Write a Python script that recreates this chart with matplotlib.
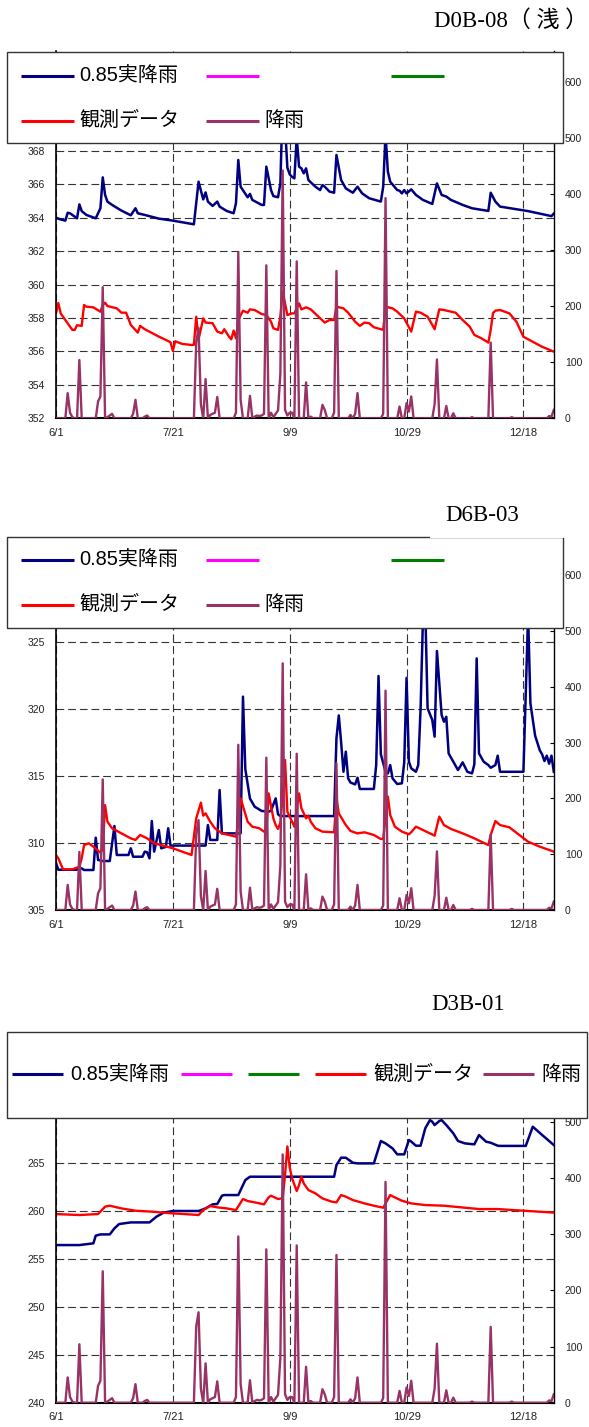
import numpy as np
import matplotlib.pyplot as plt
from matplotlib.lines import Line2D
from matplotlib.patches import Rectangle

plt.rcParams['font.family'] = ['Liberation Sans', 'Noto Sans CJK JP']

# x axis: days counted from 6/1
tick_days = [0, 50, 100, 150, 200]
tick_labels = ['6/1', '7/21', '9/9', '10/29', '12/18']
n_days = 214

# daily rainfall (days with rain only, other days are 0)
rain_day = [5, 6, 7, 10, 18, 19, 20, 22, 23, 24, 33, 34, 38, 39,
            60, 61, 62, 64, 66, 67, 68, 69, 77, 78, 79, 83, 85, 86, 87, 88, 89,
            90, 92, 93, 94, 95, 96, 97, 98, 99, 100, 101, 103, 107, 109, 114, 115,
            119, 120, 126, 128, 129, 140, 141, 147, 150, 151, 152, 162, 163, 167,
            170, 178, 186, 195, 211, 212, 213]
rain_mm = [45, 10, 2, 104, 30, 39, 234, 2, 5, 8, 8, 33, 3, 5,
           136, 161, 25, 70, 6, 8, 10, 38, 10, 296, 33, 40, 3, 5, 4, 5, 8,
           273, 10, 2, 8, 14, 80, 442, 15, 5, 10, 10, 280, 64, 3, 24, 15,
           10, 263, 6, 8, 45, 8, 393, 21, 27, 12, 39, 25, 105, 22,
           9, 2, 135, 2, 4, 3, 15]

# D0B-08 (shallow)
d0b_calc_day = [0, 2, 4, 5, 6, 9, 10, 11, 13, 17, 19, 20, 21, 22, 24, 28, 32, 34, 35, 38,
                44, 50, 59, 61, 63, 64, 65, 67, 69, 70, 73, 76, 77, 78, 79, 82, 83, 84,
                88, 89, 90, 92, 93, 95, 96, 97, 98, 99, 100, 101, 102, 103, 104, 105,
                106, 107, 108, 111, 113, 114, 115, 117, 119, 120, 122, 124, 127, 129,
                131, 134, 139, 140, 141, 142, 143, 146, 147, 148, 149, 150, 152, 154,
                157, 161, 163, 165, 167, 169, 174, 178, 185, 186, 188, 190, 202, 212, 213]
d0b_calc = [364.0, 363.9, 363.83, 364.3, 364.27, 363.97, 364.8, 364.4, 364.17, 363.97,
            364.57, 366.42, 365.37, 364.97, 364.77, 364.43, 364.15, 364.57, 364.27, 364.17,
            363.95, 363.83, 363.61, 366.16, 365.1, 365.52, 364.97, 364.71, 364.97, 364.67,
            364.41, 364.27, 364.87, 367.46, 365.86, 365.23, 365.43, 365.07,
            364.77, 364.77, 367.06, 365.66, 365.3, 365.23, 366.06, 371.0, 369.5, 367.0,
            366.6, 366.45, 366.36, 368.8, 367.06, 366.96,
            366.66, 366.96, 366.26, 365.86, 365.66, 365.96, 365.86, 365.57, 365.5, 367.76,
            366.26, 365.76, 365.5, 365.86,
            365.46, 365.17, 364.97, 365.86, 369.0, 366.76, 366.16, 365.66, 365.62, 365.46,
            365.66, 365.46, 365.7, 365.37,
            365.07, 364.83, 366.06, 365.37, 365.27, 365.07, 364.77, 364.57, 364.41, 365.5,
            364.97, 364.67, 364.4, 364.1, 364.25]
d0b_obs_day = [0, 1, 2, 4, 7, 8, 9, 11, 12, 13, 16, 19, 20, 21, 22, 26, 28, 30, 32, 35, 36,
               38, 44, 47, 49, 50, 51, 54, 58, 59, 60, 61, 63, 64, 67, 69, 71, 72, 74, 75,
               76, 77, 78, 80, 82, 83, 85, 88, 90, 92, 93, 95, 96, 97, 98, 99, 101, 102,
               104, 105, 107, 109, 112, 115, 117, 119, 120, 123, 125, 128, 130, 132, 134,
               136, 139, 140, 141, 144, 146, 149, 152, 154, 156, 159, 161, 162, 164, 166,
               171, 174, 177, 179, 182, 185, 186, 187, 188, 190, 194, 197, 200, 204, 208, 213]
d0b_obs = [358.3, 358.9, 358.28, 357.88, 357.29, 357.29, 357.57, 357.53, 358.78, 358.68,
           358.64, 358.38, 358.78, 358.92, 358.72, 358.58, 358.32, 358.32, 357.59, 357.13,
           357.53, 357.33, 356.89, 356.69, 356.55, 356.03, 356.61, 356.45, 356.39, 356.4,
           358.08, 356.73, 357.98, 357.73, 357.69, 357.19, 357.09, 357.33, 356.89, 356.73,
           357.25, 356.79, 357.88, 358.44, 358.32, 358.52, 358.48, 358.24, 358.18, 357.78,
           357.39, 357.29, 358.08, 359.58, 358.88, 358.18, 358.28, 358.28,
           358.88, 358.52, 358.64, 358.52, 358.12, 357.73, 357.88, 357.88, 358.68, 358.58,
           358.32, 357.78, 357.53, 357.73, 357.69,
           357.45, 357.33, 357.3, 358.68, 358.58, 358.38, 357.98, 357.19, 358.38, 358.32,
           358.08, 357.59, 357.33, 358.52, 358.48,
           358.32, 357.88, 357.49, 356.99, 356.79, 356.53, 357.3, 358.3, 358.44, 358.48,
           358.28, 357.78, 356.88, 356.58, 356.28, 355.99]

# D6B-03
d6b_calc_day = [0, 1, 9, 10, 11, 12, 16, 17, 18, 20, 23, 25, 26, 31, 32, 33, 37, 38, 39, 40,
                41, 42, 44, 45, 47, 48, 49, 64, 65, 66, 69, 70, 71, 79, 80, 81, 83, 85, 88,
                91, 92, 94, 95, 96, 118, 119, 120, 121, 122, 123, 124, 125, 126, 128, 129,
                130, 136, 137, 138, 139, 141, 142, 143, 144, 146, 148, 149, 150, 151, 152,
                154, 155, 156, 157, 158, 159, 161, 162, 163, 165, 166, 167, 168, 170, 172,
                174, 176, 178, 179, 180, 181, 183, 185, 186, 188, 189, 190, 200, 202, 203,
                205, 207, 208, 209, 210, 211, 212, 213]
d6b_calc = [308.5, 308.0, 308.0, 308.15, 308.1, 307.98, 307.98, 310.39, 308.73, 308.65,
            308.65, 311.26, 309.1, 309.1, 309.6, 308.97, 308.97, 309.35, 309.3, 308.85,
            311.63, 309.35, 310.96, 309.6, 309.7, 311.09, 309.8, 309.8, 311.33, 310.22,
            310.22, 313.94, 310.71, 310.71, 320.9, 315.5, 313.3, 312.7, 312.38,
            312.33, 312.4, 313.32, 312.13, 312.0, 312.0, 312.0, 317.8, 319.5, 317.5, 315.3,
            316.8, 314.81, 314.5, 314.36, 314.86,
            314.02, 314.02, 315.8, 322.44, 316.6, 315.3, 315.18, 315.8, 314.81, 314.39,
            314.44, 316.0, 322.3, 316.05, 315.56,
            315.3, 315.8, 320.03, 326.6, 327.5, 320.03, 319.16, 317.92, 324.3, 319.53,
            319.03, 319.4, 316.67, 316.05, 315.43,
            316.0, 315.3, 315.18, 315.85, 323.75, 316.67, 316.05, 315.8, 315.6, 315.8,
            316.5, 315.3, 315.3, 327.0, 320.4,
            318.0, 316.9, 316.6, 316.1, 316.5, 315.9, 316.5, 315.3]
d6b_obs_day = [0, 1, 3, 7, 10, 11, 12, 14, 16, 19, 20, 21, 22, 24, 28, 32, 34, 36, 39, 42,
               45, 50, 54, 58, 60, 62, 63, 64, 66, 68, 71, 74, 77, 78, 79, 82, 84, 87, 89,
               90, 91, 93, 94, 95, 96, 97, 98, 99, 101, 102, 104, 105, 107, 108, 109, 111,
               114, 119, 120, 121, 124, 126, 129, 132, 136, 139, 140, 142, 143, 145, 148,
               151, 152, 154, 157, 160, 162, 164, 166, 169, 174, 179, 185, 186, 188, 190,
               194, 202, 207, 213]
d6b_obs = [309.1, 308.85, 308.03, 308.03, 308.23, 308.85, 309.84, 309.97, 309.72, 309.27,
           309.5, 312.82, 311.58, 311.09, 310.71, 310.34, 310.22, 310.59, 310.34, 309.97,
           309.84, 309.6, 309.35, 309.1, 311.83, 313.0, 312.03, 312.2, 311.58, 311.09,
           310.71, 310.59, 310.46, 311.46, 313.32, 311.58, 311.21, 311.09, 310.84,
           310.8, 313.69, 311.83, 311.33, 311.04, 311.5, 313.5, 316.18, 312.33, 311.58,
           311.21, 313.69, 312.58, 311.83, 312.03, 311.58, 311.09,
           310.84, 310.79, 313.32, 312.2, 311.33, 310.89, 310.71, 310.79, 310.59, 310.29,
           310.3, 313.45, 312.08, 311.21, 310.84,
           310.64, 310.8, 311.21, 310.96, 310.71, 310.54, 311.96, 311.33, 311.04, 310.71,
           310.34, 309.84, 310.59, 311.63, 311.33,
           311.16, 310.09, 309.72, 309.35]

# D3B-01
d3b_calc_day = [0, 10, 16, 17, 19, 23, 25, 27, 32, 40, 43, 46, 50, 61, 64, 67, 69, 71, 72,
                78, 79, 81, 83, 119, 120, 122, 124, 127, 129, 136, 138, 139, 141, 144, 146,
                149, 151, 152, 154, 156, 158, 160, 161, 162, 164, 165, 167, 170, 172, 175,
                179, 181, 184, 186, 189, 190, 201, 204, 208, 213]
d3b_calc = [256.42, 256.42, 256.6, 257.4, 257.53, 257.53, 258.16, 258.61, 258.78, 258.78,
            259.38, 259.79, 259.97, 259.97, 260.24, 260.66, 260.7, 261.56, 261.63,
            261.63, 262.15, 263.19, 263.54, 263.54, 264.76, 265.52, 265.52, 265.0, 264.93,
            264.93, 266.49, 267.26, 267.01, 266.49, 265.87,
            265.87, 267.36, 267.2, 266.77, 266.77, 268.58, 269.44, 269.27, 268.92, 269.34,
            269.44, 268.92, 268.06, 267.26, 267.01,
            266.91, 267.88, 267.19, 267.08, 266.77, 266.75, 266.75, 268.75, 267.89, 266.84]
d3b_obs_day = [0, 10, 18, 21, 23, 28, 34, 41, 50, 55, 61, 63, 66, 69, 73, 77, 80, 82, 85,
               89, 91, 92, 95, 97, 98, 99, 100, 101, 103, 104, 105, 106, 108, 111, 114,
               118, 120, 122, 124, 127, 132, 136, 140, 143, 144, 148, 152, 158, 166, 175,
               181, 189, 200, 213]
d3b_obs = [259.65, 259.55, 259.65, 260.42, 260.52, 260.24, 260.0, 259.9, 259.72, 259.65,
           259.55, 260.07, 260.49, 260.35, 260.24, 260.07, 261.22, 261.01, 260.87,
           260.66, 261.4, 261.56, 261.22, 261.3, 263.72, 266.7, 264.5, 263.37, 262.05,
           262.67, 263.54, 262.85, 262.15, 261.81, 261.28,
           260.94, 260.87, 261.63, 261.46, 261.11, 260.76, 260.52, 260.31, 261.63, 261.5,
           261.04, 260.76, 260.59, 260.52, 260.31,
           260.17, 260.17, 260.0, 259.8]

NAVY = '#000080'
RED = '#ff0000'
MAGENTA = '#ff00ff'
GREEN = '#008000'
RAIN = '#993366'

W, H = 589, 1427
fig = plt.figure(figsize=(W / 100, H / 100), dpi=100)


def fx(px):
    return px / W


def fy(py):
    return 1 - py / H


days = np.arange(n_days)
rain = np.zeros(n_days)
rain[rain_day] = rain_mm

grid_kw = dict(color='#333333', lw=0.8, linestyle=(0, (7, 3.5)))


def panel(title, tx, ty, top, bottom, ylim, yticks, rtop, rticks,
          calc_day, calc, obs_day, obs, box, entries, hlen, tpad):
    ax = fig.add_axes([fx(56), fy(bottom), (553.8 - 56) / W, (bottom - top) / H])
    ax.plot(calc_day, calc, color=NAVY, lw=1.8)
    ax.plot(obs_day, obs, color=RED, lw=1.7)
    ax.set_xlim(0, n_days - 1)
    ax.set_ylim(*ylim)
    ax.set_yticks(yticks)
    ax.set_xticks(tick_days, tick_labels)
    ax.grid(True, **grid_kw)
    ax.tick_params(axis='y', length=0, pad=8, labelsize=7.5, labelcolor='#222222')
    ax.tick_params(axis='x', length=0, pad=7, labelsize=8, labelcolor='#222222')
    for s in ['top', 'right']:
        ax.spines[s].set_visible(False)
    ax.spines['left'].set_linewidth(1.2)
    ax.spines['bottom'].set_linewidth(1.5)

    ax2 = ax.twinx()
    ax2.plot(days, rain, color=RAIN, lw=1.7)
    ax2.set_ylim(0, rtop)
    ax2.set_yticks(rticks)
    ax2.tick_params(axis='y', direction='in', length=3, pad=8, labelsize=7.5,
                    labelcolor='#222222')
    for s in ['top', 'left', 'bottom']:
        ax2.spines[s].set_visible(False)
    ax2.spines['right'].set_linewidth(1.0)

    # legend box drawn over the top of the plot area
    x0, y0, x1, y1 = box
    fig.add_artist(Rectangle((fx(x0), fy(y1)), (x1 - x0) / W, (y1 - y0) / H,
                             transform=fig.transFigure, facecolor='white',
                             edgecolor='#333333', lw=1.0, zorder=1))
    for color, label, lx, ly in entries:
        fig.add_artist(Line2D([fx(lx), fx(lx + hlen)], [fy(ly), fy(ly)],
                              transform=fig.transFigure, color=color, lw=2.2,
                              solid_capstyle='butt', zorder=2))
        if label:
            fig.text(fx(lx + hlen + tpad), fy(ly), label, fontsize=14.4,
                     va='center', ha='left', zorder=3)

    fig.text(fx(tx), fy(ty), title, fontsize=16.5, va='center', ha='left',
             family=['Liberation Serif', 'Noto Sans CJK JP'], zorder=3)
    return ax, ax2


panel('D0B-08（ 浅 ）', 434, 21, 50.7, 418.3, (352, 374), np.arange(352, 369, 2),
      656, np.arange(0, 601, 100), d0b_calc_day, d0b_calc, d0b_obs_day, d0b_obs,
      (6.8, 52, 563, 143.3),
      [(NAVY, '0.85実降雨', 20.8, 75.5), (MAGENTA, '', 205.7, 75.5),
       (GREEN, '', 391, 75.5), (RED, '観測データ', 20.8, 120.5),
       (RAIN, '降雨', 205.7, 120.5)], 53, 5.5)

panel('D6B-03', 445, 515, 538.3, 910, (305, 332.7), np.arange(305, 326, 5),
      666, np.arange(0, 601, 100), d6b_calc_day, d6b_calc, d6b_obs_day, d6b_obs,
      (6.8, 536.7, 563, 627.7),
      [(NAVY, '0.85実降雨', 20.8, 559.5), (MAGENTA, '', 205.7, 559.5),
       (GREEN, '', 391, 559.5), (RED, '観測データ', 20.8, 604.5),
       (RAIN, '降雨', 205.7, 604.5)], 53, 5.5)
# the title's white background cuts into the legend frame
fig.add_artist(Rectangle((fx(430), fy(537.9)), (W - 430) / W, (537.9 - 495) / H,
                         transform=fig.transFigure, facecolor='white',
                         edgecolor='none', zorder=1.5))

panel('D3B-01', 431, 1005, 1114.7, 1402.7, (240, 270), np.arange(240, 266, 5),
      512.7, np.arange(0, 501, 100), d3b_calc_day, d3b_calc, d3b_obs_day, d3b_obs,
      (6.8, 1031.7, 587, 1118.3),
      [(NAVY, '0.85実降雨', 12, 1074), (MAGENTA, '', 181, 1074),
       (GREEN, '', 248, 1074), (RED, '観測データ', 315, 1074),
       (RAIN, '降雨', 483, 1074)], 51, 7)

fig.savefig('out.png', dpi=100)
